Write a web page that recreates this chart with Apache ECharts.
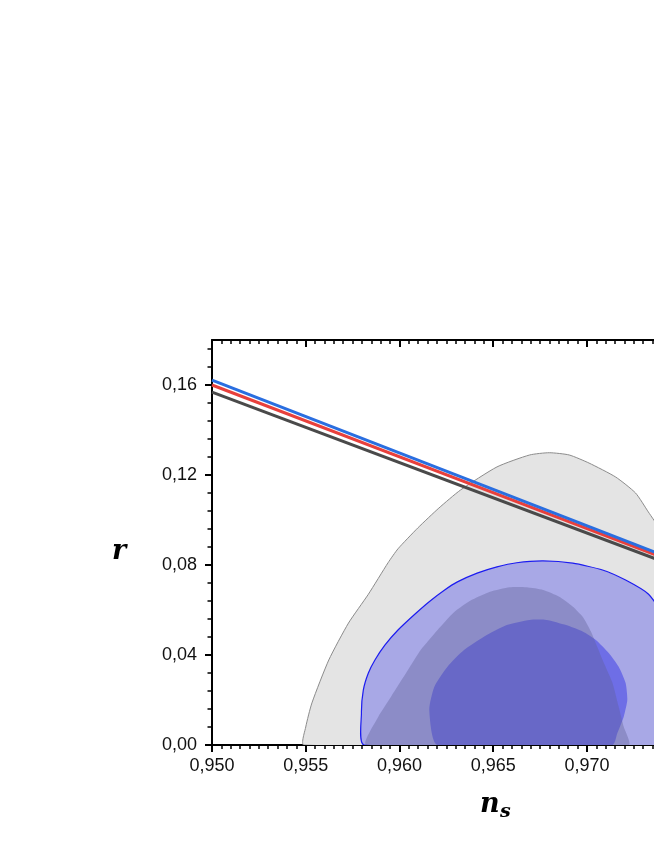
<!DOCTYPE html>
<html>
<head>
<meta charset="utf-8">
<style>
html,body{margin:0;padding:0;background:#fff;overflow:hidden;width:654px;height:846px;}
#c{width:800px;height:846px;}
</style>
<script src="https://cdn.jsdelivr.net/npm/echarts@6/dist/echarts.min.js"></script>
</head>
<body>
<div id="c"></div>
<script>
// ---- axis ticks ----
const xMin = 0.950, xMax = 0.980, xStep = 0.005;
const yMin = 0.00, yMax = 0.18;
const yMajorTicks = [0.00, 0.04, 0.08, 0.12, 0.16];
const yMinorTicks = [0.008,0.016,0.024,0.032,0.048,0.056,0.064,0.072,0.088,0.096,0.104,0.112,0.128,0.136,0.144,0.152,0.168,0.176];

// ---- straight model lines (ns, r) ----
const lineBlue = [[0.950, 0.1622], [0.980, 0.0651]];
const lineRed  = [[0.950, 0.1600], [0.980, 0.0643]];
const lineGray = [[0.950, 0.1568], [0.980, 0.0629]];

// ---- confidence contours (ns, r) ----
const gray2sigma = [
  [0.9549,0.0000],[0.95500,0.0080],[0.95533,0.0187],[0.95623,0.0378],[0.95728,0.0542],
  [0.95834,0.0670],[0.95939,0.0810],[0.95992,0.0872],[0.96098,0.0965],[0.96210,0.1053],[0.96325,0.1133],
  [0.96520,0.1236],[0.96694,0.1289],[0.96799,0.1299],[0.96905,0.1289],[0.97011,0.1253],
  [0.97153,0.1191],[0.97259,0.1120],[0.97327,0.1036],[0.97390,0.0956],[0.97459,0.0822],
  [0.97522,0.0644],[0.97565,0.0422],[0.97591,0.0200],[0.97601,0.0000]
];
const blue2sigma = [
  [0.95811,0.0000],[0.95797,0.0142],[0.95807,0.0244],[0.95834,0.0320],[0.95869,0.0378],
  [0.95922,0.0444],[0.95992,0.0511],[0.96080,0.0580],[0.96160,0.0638],[0.96239,0.0688],
  [0.96309,0.0725],[0.96414,0.0764],[0.96520,0.0792],[0.96625,0.0810],[0.96766,0.0818],
  [0.96924,0.0808],[0.97083,0.0778],[0.97206,0.0733],[0.97327,0.0671],[0.97406,0.0578],
  [0.97469,0.0444],[0.97512,0.0267],[0.97522,0.0000]
];
const gray1sigma = [
  [0.95823,0.0000],[0.95887,0.0126],[0.95955,0.0215],[0.96045,0.0333],[0.96113,0.0422],
  [0.96203,0.0511],[0.96291,0.0590],[0.96377,0.0641],[0.96483,0.0681],[0.96588,0.0701],
  [0.96678,0.0701],[0.96766,0.0689],[0.96852,0.0659],[0.96925,0.0615],[0.96977,0.0570],
  [0.97021,0.0504],[0.97083,0.0378],[0.97136,0.0276],[0.97169,0.0170],[0.97196,0.0081],
  [0.97222,0.0000]
];
const blue1sigma = [
  [0.96203,0.0000],[0.96159,0.0156],[0.96186,0.0259],[0.96256,0.0348],[0.96344,0.0422],
  [0.96450,0.0481],[0.96572,0.0533],[0.96694,0.0556],[0.96784,0.0556],[0.96889,0.0533],
  [0.96977,0.0504],[0.97047,0.0467],[0.97116,0.0409],[0.97169,0.0348],[0.97206,0.0276],
  [0.97215,0.0200],[0.97196,0.0126],[0.97162,0.0053],[0.97136,0.0000]
];

const fmt = v => v.toFixed(v < 0.5 ? 2 : 3).replace('.', ',');

function contour(name, pts, fill, stroke, lw) {
  return {
    name: name, type: 'custom', xAxisIndex: 0, yAxisIndex: 0,
    clip: true, silent: true,
    data: [pts[0]],
    renderItem: function (params, api) {
      const p = pts.map(d => api.coord(d));
      return {
        type: 'polygon',
        shape: { points: p, smooth: 0.2 },
        style: { fill: fill, stroke: stroke || 'none', lineWidth: lw || 0 }
      };
    }
  };
}
function line(name, data, color) {
  return {
    name: name, type: 'line', xAxisIndex: 0, yAxisIndex: 0, data: data,
    symbol: 'none', clip: true, silent: true,
    lineStyle: { color: color, width: 3 }
  };
}

const chart = echarts.init(document.getElementById('c'), null, { renderer: 'canvas' });
chart.setOption({
  animation: false,
  backgroundColor: '#ffffff',
  grid: { left: 212, top: 340, bottom: 101, right: 19.5, containLabel: false },
  xAxis: [
    {
      type: 'value', position: 'bottom', min: xMin, max: xMax, interval: xStep,
      axisLine: { show: true, onZero: false, lineStyle: { color: '#000', width: 2 } },
      axisTick: { show: true, inside: false, length: 7, lineStyle: { color: '#000', width: 2 } },
      minorTick: { show: true, splitNumber: 10, length: 4, lineStyle: { color: '#000', width: 1.5 } },
      axisLabel: { margin: 12, color: '#111', fontSize: 18, fontFamily: 'Liberation Sans, Arial, sans-serif', formatter: fmt },
      splitLine: { show: false }
    },
    {
      type: 'value', position: 'top', min: xMin, max: xMax, interval: xStep,
      axisLine: { show: true, onZero: false, lineStyle: { color: '#000', width: 2 } },
      axisTick: { show: true, inside: true, length: 7, lineStyle: { color: '#000', width: 2 } },
      minorTick: { show: true, splitNumber: 10, length: 4, lineStyle: { color: '#000', width: 1.5 } },
      axisLabel: { show: false },
      splitLine: { show: false }
    }
  ],
  yAxis: [
    {
      type: 'value', position: 'left', min: yMin, max: yMax,
      axisLine: { show: true, onZero: false, lineStyle: { color: '#000', width: 2 } },
      axisTick: { show: true, inside: false, length: 7, customValues: yMajorTicks, lineStyle: { color: '#000', width: 2 } },
      axisLabel: { margin: 15, color: '#111', fontSize: 18, fontFamily: 'Liberation Sans, Arial, sans-serif', customValues: yMajorTicks, formatter: fmt },
      splitLine: { show: false }
    },
    {
      type: 'value', position: 'left', min: yMin, max: yMax,
      axisLine: { show: false },
      axisTick: { show: true, inside: false, length: 4.5, customValues: yMinorTicks, lineStyle: { color: '#000', width: 1.5 } },
      axisLabel: { show: false },
      splitLine: { show: false }
    }
  ],
  graphic: [
    { type: 'text', left: 112, top: 538, silent: true,
      style: { text: 'r', fill: '#000', font: 'italic bold 27px "DejaVu Serif", serif' } },
    { type: 'text', left: 480, top: 791, silent: true,
      style: { text: 'n', fill: '#000', font: 'italic bold 27px "DejaVu Serif", serif' } },
    { type: 'text', left: 500, top: 803, silent: true,
      style: { text: 's', fill: '#000', font: 'italic bold 19px "DejaVu Serif", serif' } }
  ],
  series: [
    contour('gray 2σ', gray2sigma, '#e4e4e4', '#8c8c8c', 1),
    contour('blue 2σ', blue2sigma, '#a8a8e6', '#1c1cf0', 1.2),
    contour('blue 1σ', blue1sigma, '#6e6ee6'),
    contour('gray 1σ', gray1sigma, 'rgba(94,94,151,0.38)'),
    line('gray line', lineGray, '#4a4a4a'),
    line('red line', lineRed, '#e8403c'),
    line('blue line', lineBlue, '#2a6ee0')
  ]
});
</script>
</body>
</html>
